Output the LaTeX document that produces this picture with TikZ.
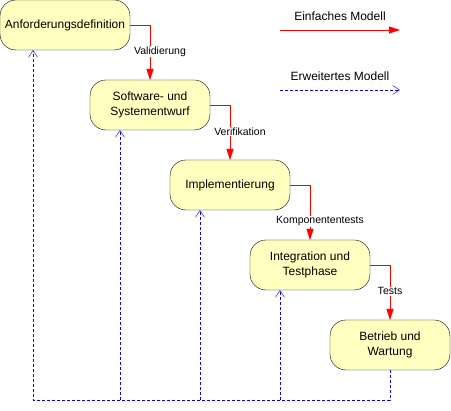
\documentclass[tikz,border=0pt]{standalone}
\usepackage{fontspec}
\setmainfont{Liberation Sans}
\usetikzlibrary{calc,positioning,arrows.meta}
\definecolor{gelb}{HTML}{FFFFC0}

\begin{document}
\begin{tikzpicture}[
    x=1pt, y=-1pt,
    align=center,
    phase/.style={rectangle, rounded corners=16pt, minimum width=120pt, minimum height=50pt,
      inner sep=2pt, outer sep=0pt, draw=black, fill=gelb, font=\fontsize{12}{14.5}\selectfont},
    marke/.style={fill=white, text=black, inner sep=1pt, font=\fontsize{10.5}{12}\selectfont},
    legende/.style={font=\fontsize{12}{14}\selectfont},
    einfach/.style={-{Triangle[length=11pt,width=7pt]}, red},
    erweitert/.style={-{Straight Barb[length=7pt,width=9pt]}, blue, dash pattern=on 3pt off 2pt},
  ]
  \useasboundingbox (0,0) rectangle (451,411);

  % phases
  \node (anf)     [phase, minimum width=130pt] at (65,25) {Anforderungsdefinition};
  \node (entwurf) [phase, below right=30pt and -40pt of anf]     {Software- und\\ Systementwurf};
  \node (impl)    [phase, below right=30pt and -40pt of entwurf] {Implementierung};
  \node (integ)   [phase, below right=30pt and -40pt of impl]    {Integration und\\ Testphase};
  \node (betrieb) [phase, below right=30pt and -40pt of integ]   {Betrieb und\\ Wartung};

  % simple model
  \draw[einfach] (anf.east) -| node[marke, pos=0.74, xshift=10pt] {Validierung} (entwurf.north);
  \draw[einfach] (entwurf.east) -| node[marke, pos=0.74, xshift=10pt] {Verifikation} (impl.north);
  \draw[einfach] (impl.east) -| node[marke, pos=0.83, xshift=10pt] {Komponententests} (integ.north);
  \draw[einfach] (integ.east) -| node[marke, pos=0.74] {Tests} (betrieb.north);

  % extended model
  \coordinate (ende) at ($(betrieb.south)+(0,30)$);
  \coordinate (z-anf) at ($(anf.south)+(-32,0)$);
  \draw[erweitert] (betrieb.south) -- (ende) -| (z-anf);
  \foreach \n in {entwurf, impl, integ} {
    \coordinate (z-\n) at ($(\n.south)+(-30,0)$);
    \draw[erweitert] (z-\n |- ende) -- (z-\n);
  }

  % legend
  \node (einfach-text)   [legende] at (340,16) {Einfaches Modell};
  \coordinate (e-start) at (280,30);
  \coordinate (e-ende)  at (400,30);
  \draw[einfach] (e-start) -- (e-ende);

  \node (erweitert-text) [legende] at (340,76) {Erweitertes Modell};
  \coordinate (w-start) at (280,90);
  \coordinate (w-ende)  at (400,90);
  \draw[erweitert] (w-start) -- (w-ende);

\end{tikzpicture}
\end{document}
